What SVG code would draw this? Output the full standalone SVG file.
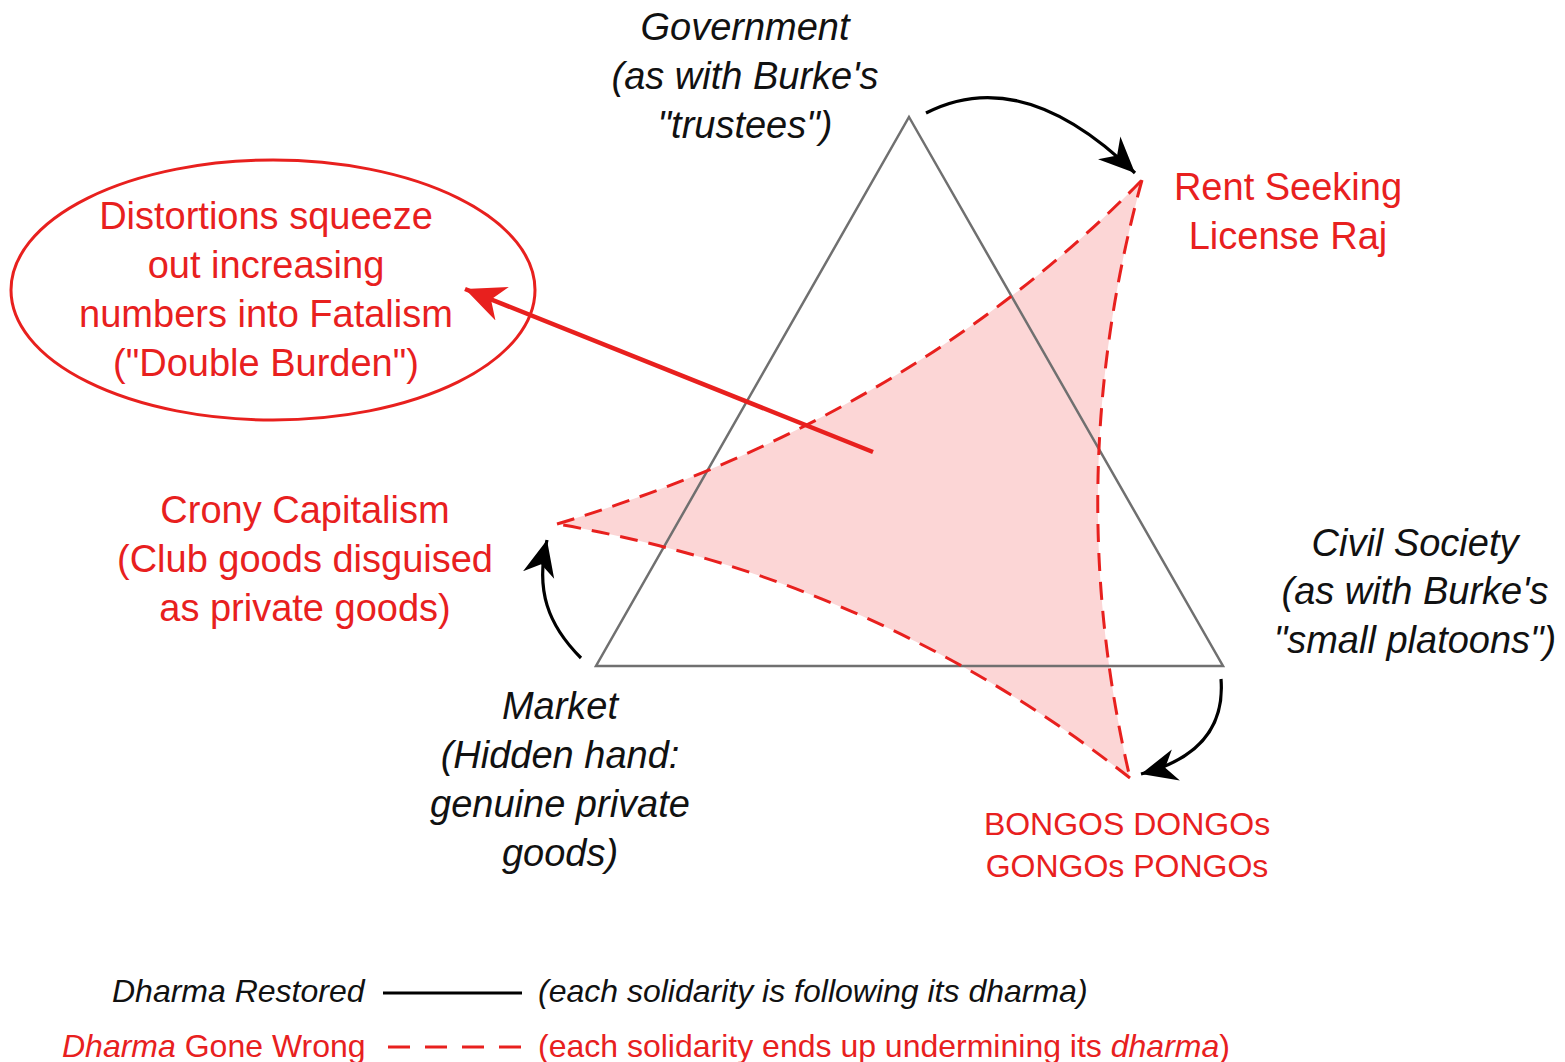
<svg xmlns="http://www.w3.org/2000/svg" width="1565" height="1062" viewBox="0 0 1565 1062">
<defs>
<marker id="ah" viewBox="-36 -18 38 36" markerWidth="38" markerHeight="36" refX="0" refY="0" orient="auto" markerUnits="userSpaceOnUse">
<path d="M0,0 L-36,-16 L-25,0 L-36,16 Z" fill="#000"/>
</marker>
<marker id="ahr" viewBox="-40 -20 42 40" markerWidth="42" markerHeight="40" refX="0" refY="0" orient="auto" markerUnits="userSpaceOnUse">
<path d="M0,0 L-40,-18 L-28,0 L-40,18 Z" fill="#e8201e"/>
</marker>
</defs>
<style>
text{font-family:"Liberation Sans",Arial,sans-serif;font-size:38px}
.b{fill:#111;font-style:italic}
.r{fill:#e8201e}
.m{text-anchor:middle}
.arr{fill:none;stroke:#000;stroke-width:3.2}
.dash{fill:none;stroke:#e8201e;stroke-width:3;stroke-dasharray:18 11}
</style>
<rect width="1565" height="1062" fill="#fff"/>
<g id="distortion-area">
<path d="M557,524 Q910,418 1142,180 Q1060,479 1130,778 Q876,579 557,524 Z" fill="#fcd6d6"/>
</g>
<g id="triangle">
<path d="M909,117 L1223,666 L596,666 Z" fill="none" stroke="#707070" stroke-width="2.5"/>
</g>
<g id="dashed-edges">
<path class="dash" d="M557,524 Q910,418 1142,180"/>
<path class="dash" d="M1142,180 Q1060,479 1130,778"/>
<path class="dash" d="M1130,778 Q876,579 557,524"/>
</g>
<g id="connectors">
<path class="arr" d="M926,113 C990,80 1060,100 1135,173" marker-end="url(#ah)"/>
<path class="arr" d="M581,658 C548,625 535,590 547,540" marker-end="url(#ah)"/>
<path class="arr" d="M1221,679 C1225,730 1195,760 1141,774" marker-end="url(#ah)"/>
<path d="M873,452 L465,289" fill="none" stroke="#e8201e" stroke-width="4.5" marker-end="url(#ahr)"/>
</g>
<g id="government">
<text class="b m" x="745" y="40">Government</text>
<text class="b m" x="745" y="89">(as with Burke's</text>
<text class="b m" x="745" y="138">"trustees")</text>
</g>
<g id="rent-seeking">
<text class="r m" x="1288" y="200">Rent Seeking</text>
<text class="r m" x="1288" y="249">License Raj</text>
</g>
<g id="distortions">
<ellipse cx="273" cy="290" rx="262" ry="130" fill="none" stroke="#e8201e" stroke-width="3"/>
<text class="r m" x="266" y="229">Distortions squeeze</text>
<text class="r m" x="266" y="278">out increasing</text>
<text class="r m" x="266" y="327">numbers into Fatalism</text>
<text class="r m" x="266" y="376">("Double Burden")</text>
</g>
<g id="crony">
<text class="r m" x="305" y="523">Crony Capitalism</text>
<text class="r m" x="305" y="572">(Club goods disguised</text>
<text class="r m" x="305" y="621">as private goods)</text>
</g>
<g id="civil-society">
<text class="b m" x="1415" y="556">Civil Society</text>
<text class="b m" x="1415" y="604">(as with Burke's</text>
<text class="b m" x="1415" y="653">"small platoons")</text>
</g>
<g id="market">
<text class="b m" x="560" y="719">Market</text>
<text class="b m" x="560" y="768">(Hidden hand:</text>
<text class="b m" x="560" y="817">genuine private</text>
<text class="b m" x="560" y="866">goods)</text>
</g>
<g id="bongos">
<text class="r m" x="1127" y="835" style="font-size:32px">BONGOS DONGOs</text>
<text class="r m" x="1127" y="877" style="font-size:32px">GONGOs PONGOs</text>
</g>
<g id="legend">
<text class="b" x="112" y="1002" style="font-size:32px">Dharma Restored</text>
<line x1="383" y1="993" x2="522" y2="993" stroke="#000" stroke-width="3"/>
<text class="b" x="538" y="1002" style="font-size:32px">(each solidarity is following its dharma)</text>
<text class="r" x="62" y="1057" style="font-size:32px"><tspan font-style="italic">Dharma</tspan> Gone Wrong</text>
<line x1="388" y1="1047" x2="522" y2="1047" stroke="#e8201e" stroke-width="3" stroke-dasharray="22 15"/>
<text class="r" x="538" y="1057" style="font-size:32px">(each solidarity ends up undermining its <tspan font-style="italic">dharma</tspan>)</text>
</g>
</svg>
